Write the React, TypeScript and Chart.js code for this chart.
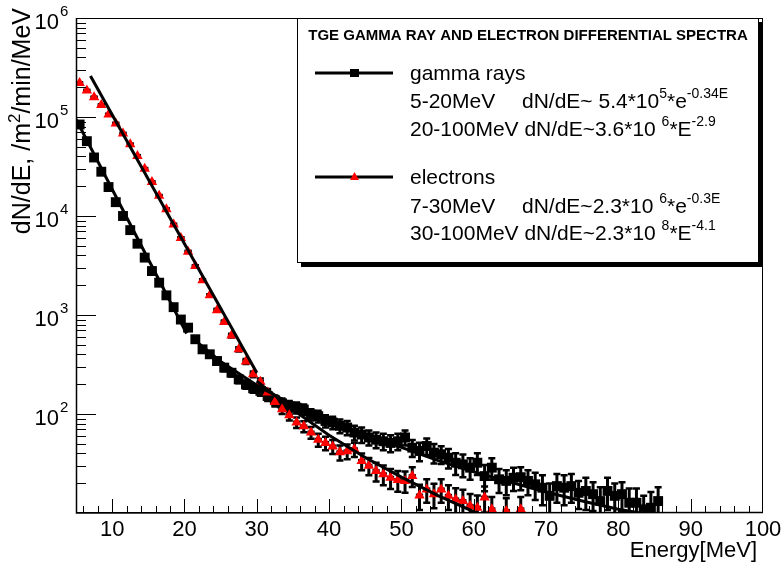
import React, { useEffect, useRef } from 'react';
import { Chart, registerables } from 'chart.js';

Chart.register(...registerables);

// ---------------- data ----------------
const gammaEnergy = [
  5.5, 6.5, 7.5, 8.5, 9.5, 10.5, 11.5, 12.5, 13.5, 14.5, 15.5, 16.5, 17.5, 18.5, 19.5, 20.5,
  21.5, 22.5, 23.5, 24.5, 25.5, 26.5, 27.5, 28.5, 29.5, 30.5, 31.5, 32.5, 33.5, 34.5, 35.5,
  36.5, 37.5, 38.5, 39.5, 40.5, 41.5, 42.5, 43.5, 44.5, 45.5, 46.5, 47.5, 48.5, 49.5, 50.5,
  51.5, 52.5, 53.5, 54.5, 55.5, 56.5, 57.5, 58.5, 59.5, 60.5, 61.5, 62.5, 63.5, 64.5, 65.5,
  66.5, 67.5, 68.5, 69.5, 70.5, 71.5, 72.5, 73.5, 74.5, 75.5, 76.5, 77.5, 78.5, 79.5, 80.5,
  81.5, 82.5, 83.5, 84.5, 85.5,
];
const gammaFlux = [
  84000, 57000, 39000, 28000, 19600, 13800, 10000, 7200, 5250, 3800, 2780, 2120, 1580, 1200, 900, 745,
  569, 450, 401, 343, 294, 261, 224, 199, 182, 171, 152, 138, 128, 120, 116,
  111, 99, 95, 85, 82, 76, 73, 65, 62, 58, 55, 53, 51, 53, 58,
  45.7, 42.3, 47.5, 40.7, 39.2, 36.2, 32.2, 31, 28.7, 32.2, 23.6, 28.7, 21.9, 21.1, 22.7,
  23, 21.1, 19.5, 18, 14.9, 18.7, 18, 18.7, 16, 16.7, 15.5, 13.2, 16.7, 14.9, 15.5,
  12.7, 12.7, 10.9, 11.3, 13.2,
];
const gammaError = [
  391, 322, 267, 226, 189, 159, 135, 115, 98, 83, 71, 62, 54, 47, 40, 37,
  32, 29, 27, 25, 23, 22, 20, 19, 18, 18, 17, 16, 15, 15, 15,
  14, 13, 13, 12, 12, 12, 12, 11, 11, 10, 10, 10, 10, 10, 10,
  9, 9, 9, 9, 8, 8, 8, 8, 7, 8, 7, 7, 6, 6, 6,
  6, 6, 6, 6, 5, 6, 6, 6, 5, 6, 5, 5, 6, 5, 5,
  5, 5, 4, 5, 5,
];

const electronEnergy = [
  5.5, 6.5, 7.5, 8.5, 9.5, 10.5, 11.5, 12.5, 13.5, 14.5, 15.5, 16.5, 17.5, 18.5, 19.5, 20.5,
  21.5, 22.5, 23.5, 24.5, 25.5, 26.5, 27.5, 28.5, 29.5, 30.5, 31.5, 32.5, 33.5, 34.5, 35.5,
  36.5, 37.5, 38.5, 39.5, 40.5, 41.5, 42.5, 43.5, 44.5, 45.5, 46.5, 47.5, 48.5, 49.5, 50.5,
  51.5, 52.5, 53.5, 54.5, 55.5, 56.5, 57.5, 58.5, 59.5, 60.5, 61.5, 62.5, 64.5, 66.5,
];
const electronFlux = [
  220000, 185000, 158000, 132000, 106000, 86000, 68000, 53000, 40400, 30000, 22000, 16000, 11700, 8200, 6000, 4360,
  3120, 2250, 1580, 1120, 850, 620, 450, 340, 252, 212, 165, 132, 112, 97, 82,
  75, 65, 55, 51, 47, 41, 42, 44, 33.5, 30, 26.5, 24.6, 22.7, 21.5, 21.1,
  23.6, 15, 17.3, 15.5, 17.3, 14.9, 13.7, 13.2, 11.8, 11.3, 14.3, 10.9, 10.5, 10.9,
];
const electronError = [
  516, 473, 437, 400, 358, 323, 287, 253, 221, 190, 163, 139, 119, 100, 85, 73,
  61, 52, 44, 37, 32, 27, 23, 20, 17, 16, 14, 13, 12, 11, 10,
  9.5, 8.9, 8.2, 7.9, 7.5, 7, 7.1, 7.3, 6.4, 6, 5.7, 5.5, 5.2, 5.1, 5.1,
  5.3, 4.3, 4.6, 4.3, 4.6, 4.2, 4.1, 4, 3.8, 3.7, 4.2, 3.6, 3.6, 3.6,
];

// fitted curves
const gammaFitLowE = [5, 20.3];
const gammaFitLowFlux = [95000, 650];
const gammaFitHighE = [21, 25, 30, 35, 40, 45, 50, 55, 60, 65, 70, 75, 80, 83];
const gammaFitHighFlux = [590, 340, 195, 123, 83, 60, 46, 34, 26, 20.5, 16.3, 13.2, 10.9, 10];
const electronFitLowE = [7, 30];
const electronFitLowFlux = [260000, 261];
const electronFitHighE = [30, 35, 40, 45, 50, 55, 60, 61];
const electronFitHighFlux = [215, 110, 61, 36.3, 23, 15.1, 10.3, 9.6];

// axes
const xMajorTicks = [10, 20, 30, 40, 50, 60, 70, 80, 90, 100];
const yDecadeExponents = [2, 3, 4, 5, 6];
const xTitle = 'Energy[MeV]';
const yTitleParts = ['dN/dE, /m', '2', '/min/MeV'];

// legend (alternating normal / superscript pieces)
const legendTitle = 'TGE GAMMA RAY AND ELECTRON DIFFERENTIAL SPECTRA';
const gammaLegendLabel = 'gamma rays';
const electronLegendLabel = 'electrons';
const gammaFitRanges = ['5-20MeV', '20-100MeV'];
const gammaFitFormulas = [
  ['dN/dE~ 5.4*10', '5', '*e', '-0.34E'],
  ['dN/dE~3.6*10 ', '6', '*E', '-2.9'],
];
const electronFitRanges = ['7-30MeV', '30-100MeV'];
const electronFitFormulas = [
  ['dN/dE~2.3*10 ', '6', '*e', '-0.3E'],
  ['dN/dE~2.3*10 ', '8', '*E', '-4.1'],
];

// ---------------- drawing helpers ----------------
const FONT = '"Liberation Sans", Arial, Helvetica, sans-serif';

function richWidth(ctx: CanvasRenderingContext2D, parts: string[], size: number, supSize: number) {
  let w = 0;
  parts.forEach((t, i) => {
    ctx.font = `${i % 2 === 1 ? supSize : size}px ${FONT}`;
    w += ctx.measureText(t).width;
  });
  return w;
}

function drawRich(
  ctx: CanvasRenderingContext2D,
  parts: string[],
  x: number,
  y: number,
  size: number,
  supSize: number,
  rise: number
) {
  ctx.textAlign = 'left';
  ctx.textBaseline = 'alphabetic';
  let cx = x;
  parts.forEach((t, i) => {
    const sup = i % 2 === 1;
    ctx.font = `${sup ? supSize : size}px ${FONT}`;
    ctx.fillText(t, cx, sup ? y - rise : y);
    cx += ctx.measureText(t).width;
  });
  return cx;
}

const rootStyle = {
  id: 'rootStyle',
  beforeDatasetsDraw(chart: any) {
    const { ctx, chartArea, scales } = chart;
    const xs = scales.x;
    const ys = scales.y;
    ctx.save();
    ctx.beginPath();
    ctx.rect(chartArea.left, chartArea.top, chartArea.right - chartArea.left, chartArea.bottom - chartArea.top);
    ctx.clip();
    ctx.strokeStyle = '#000';
    const drawBars = (es: number[], fs: number[], errs: number[]) => {
      es.forEach((e, i) => {
        const v = fs[i];
        const err = errs[i];
        const px = xs.getPixelForValue(e);
        const py = ys.getPixelForValue(v);
        const pTop = ys.getPixelForValue(v + err);
        const pBot = ys.getPixelForValue(Math.max(v - err, 0.01));
        ctx.lineWidth = 3;
        ctx.beginPath();
        ctx.moveTo(px, pTop);
        ctx.lineTo(px, pBot);
        ctx.stroke();
        ctx.lineWidth = 2.5;
        ctx.beginPath();
        ctx.moveTo(px - 3.5, pTop);
        ctx.lineTo(px + 3.5, pTop);
        ctx.moveTo(px - 3.5, pBot);
        ctx.lineTo(px + 3.5, pBot);
        ctx.stroke();
        ctx.lineWidth = 4;
        ctx.beginPath();
        ctx.moveTo(xs.getPixelForValue(e - 0.5), py);
        ctx.lineTo(xs.getPixelForValue(e + 0.5), py);
        ctx.stroke();
      });
    };
    drawBars(gammaEnergy, gammaFlux, gammaError);
    drawBars(electronEnergy, electronFlux, electronError);
    ctx.restore();
  },
  afterDraw(chart: any) {
    const { ctx, chartArea, scales } = chart;
    const xs = scales.x;
    const ys = scales.y;
    const { left, right, top, bottom } = chartArea;
    ctx.save();
    ctx.fillStyle = '#000';
    ctx.strokeStyle = '#000';

    // frame
    ctx.lineWidth = 1;
    ctx.strokeRect(left + 0.5, top + 0.5, right - left - 1, bottom - top - 1);
    ctx.lineWidth = 1.5;
    ctx.beginPath();
    ctx.moveTo(left + 0.5, top);
    ctx.lineTo(left + 0.5, bottom);
    ctx.lineTo(right, bottom - 0.5);
    ctx.stroke();

    // x ticks
    ctx.lineWidth = 1;
    ctx.beginPath();
    for (let v = 6; v < 100; v += 2) {
      const px = Math.round(xs.getPixelForValue(v)) + 0.5;
      const len = v % 10 === 0 ? 14 : 7;
      ctx.moveTo(px, bottom);
      ctx.lineTo(px, bottom - len);
    }
    // y ticks
    for (let d = 1; d <= 5; d++) {
      for (let m = 1; m <= 9; m++) {
        const val = m * Math.pow(10, d);
        if (val <= 10) continue;
        const py = Math.round(ys.getPixelForValue(val)) + 0.5;
        const len = m === 1 ? 20 : 10;
        ctx.moveTo(left, py);
        ctx.lineTo(left + len, py);
      }
    }
    const pyTop = Math.round(ys.getPixelForValue(1e6)) + 0.5;
    ctx.moveTo(left, pyTop);
    ctx.lineTo(left + 20, pyTop);
    ctx.stroke();

    // x tick labels
    ctx.font = `22px ${FONT}`;
    ctx.textAlign = 'center';
    ctx.textBaseline = 'alphabetic';
    xMajorTicks.forEach((v) => {
      ctx.fillText(String(v), xs.getPixelForValue(v), 536);
    });

    // y tick labels
    yDecadeExponents.forEach((n) => {
      const py = ys.getPixelForValue(Math.pow(10, n));
      ctx.font = `22px ${FONT}`;
      ctx.textAlign = 'right';
      ctx.fillText('10', 59, py + 11);
      ctx.font = `15px ${FONT}`;
      ctx.textAlign = 'left';
      ctx.fillText(String(n), 60, py - 2);
    });

    // axis titles
    ctx.font = `22px ${FONT}`;
    ctx.textAlign = 'right';
    ctx.fillText(xTitle, 757, 557);

    ctx.save();
    ctx.translate(30, 8);
    ctx.rotate(-Math.PI / 2);
    const tw = richWidth(ctx, yTitleParts, 25, 17);
    drawRich(ctx, yTitleParts, -tw, 0, 25, 17, 10);
    ctx.restore();

    // legend box with shadow
    const bx = 297, by = 18, bw = 462, bh = 245;
    ctx.fillStyle = '#000';
    ctx.fillRect(bx + 4, by + 4, bw, bh);
    ctx.fillStyle = '#fff';
    ctx.fillRect(bx, by, bw, bh);
    ctx.lineWidth = 1;
    ctx.strokeStyle = '#000';
    ctx.strokeRect(bx + 0.5, by + 0.5, bw - 1, bh - 1);

    ctx.fillStyle = '#000';
    ctx.font = `bold 15px ${FONT}`;
    ctx.textAlign = 'center';
    ctx.fillText(legendTitle, bx + bw / 2, 40);

    const drawEntry = (ly: number, marker: 'rect' | 'tri') => {
      ctx.lineWidth = 3;
      ctx.strokeStyle = '#000';
      ctx.beginPath();
      ctx.moveTo(315, ly);
      ctx.lineTo(393, ly);
      ctx.stroke();
      if (marker === 'rect') {
        ctx.fillStyle = '#000';
        ctx.fillRect(350, ly - 4, 9, 8);
      } else {
        ctx.fillStyle = '#ff0000';
        ctx.beginPath();
        ctx.moveTo(354.5, ly - 5);
        ctx.lineTo(359, ly + 3);
        ctx.lineTo(350, ly + 3);
        ctx.closePath();
        ctx.fill();
      }
      ctx.fillStyle = '#000';
    };
    const textX = 410;
    const drawFormulaLine = (range: string, formula: string[], baseY: number) => {
      ctx.font = `21px ${FONT}`;
      ctx.textAlign = 'left';
      ctx.fillText(range, textX, baseY);
      const rw = ctx.measureText(range).width;
      const sp = ctx.measureText(' ').width;
      const fx = textX + Math.max(rw + sp, 112);
      drawRich(ctx, formula, fx, baseY, 21, 14, 10);
    };

    drawEntry(73, 'rect');
    ctx.font = `21px ${FONT}`;
    ctx.textAlign = 'left';
    ctx.fillText(gammaLegendLabel, textX, 80);
    drawFormulaLine(gammaFitRanges[0], gammaFitFormulas[0], 108);
    drawFormulaLine(gammaFitRanges[1], gammaFitFormulas[1], 136);

    drawEntry(177, 'tri');
    ctx.font = `21px ${FONT}`;
    ctx.textAlign = 'left';
    ctx.fillText(electronLegendLabel, textX, 184);
    drawFormulaLine(electronFitRanges[0], electronFitFormulas[0], 213);
    drawFormulaLine(electronFitRanges[1], electronFitFormulas[1], 240);

    ctx.restore();
  },
};

function pts(xs: number[], ys: number[]) {
  return xs.map((x, i) => ({ x, y: ys[i] }));
}

export default function App() {
  const canvasRef = useRef<HTMLCanvasElement | null>(null);

  useEffect(() => {
    if (!canvasRef.current) return;
    const lineStyle = {
      showLine: true,
      borderColor: '#000',
      borderWidth: 3,
      pointRadius: 0,
      fill: false,
      tension: 0,
    };
    const chart = new Chart(canvasRef.current, {
      type: 'scatter',
      data: {
        datasets: [
          { label: 'gfit1', data: pts(gammaFitLowE, gammaFitLowFlux), ...lineStyle },
          { label: 'gfit2', data: pts(gammaFitHighE, gammaFitHighFlux), ...lineStyle },
          { label: 'efit1', data: pts(electronFitLowE, electronFitLowFlux), ...lineStyle },
          { label: 'efit2', data: pts(electronFitHighE, electronFitHighFlux), ...lineStyle },
          {
            label: 'electrons',
            data: pts(electronEnergy, electronFlux),
            pointStyle: 'triangle',
            pointRadius: 6,
            backgroundColor: '#ff0000',
            borderColor: '#ff0000',
            borderWidth: 0,
          },
          {
            label: 'gamma rays',
            data: pts(gammaEnergy, gammaFlux),
            pointStyle: 'rect',
            pointRadius: 7,
            backgroundColor: '#000',
            borderColor: '#000',
            borderWidth: 0,
          },
        ] as any,
      },
      options: {
        animation: false,
        responsive: false,
        devicePixelRatio: 1,
        events: [],
        layout: { padding: { left: 0, top: 18, right: 21, bottom: 0 }, autoPadding: false },
        plugins: { legend: { display: false }, tooltip: { enabled: false } },
        scales: {
          x: {
            type: 'linear',
            min: 5,
            max: 100,
            ticks: { display: false },
            grid: { display: false },
            border: { display: false },
            afterFit: (s: any) => {
              s.height = 55;
            },
          },
          y: {
            type: 'logarithmic',
            min: 10,
            max: 1e6,
            ticks: { display: false },
            grid: { display: false },
            border: { display: false },
            afterFit: (s: any) => {
              s.width = 76;
            },
          },
        },
      } as any,
      plugins: [rootStyle],
    });
    return () => chart.destroy();
  }, []);

  return (
    <div style={{ position: 'fixed', left: 0, top: 0, width: 784, height: 568, background: '#fff' }}>
      <canvas ref={canvasRef} width={784} height={568} style={{ display: 'block', width: 784, height: 568 }} />
    </div>
  );
}
